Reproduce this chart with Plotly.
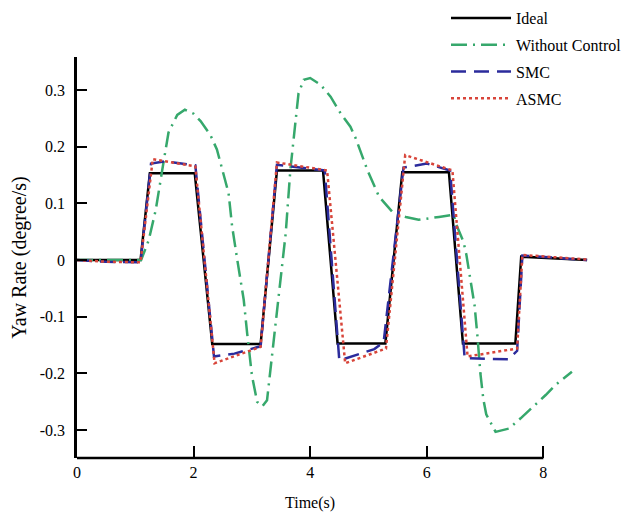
import plotly.graph_objects as go

# ---------------- data ----------------
t_ideal = [0, 1.09, 1.25, 2.02, 2.32, 3.15, 3.43, 4.22, 4.47, 5.29, 5.58, 6.38, 6.62, 7.52, 7.62, 8.75]
y_ideal = [0, 0, 0.153, 0.153, -0.148, -0.148, 0.158, 0.158, -0.147, -0.147, 0.155, 0.155, -0.147, -0.147, 0.006, 0.0]

t_nc = [0, 0.5, 1.1, 1.23, 1.35, 1.49, 1.57, 1.72, 1.85, 2.0, 2.12, 2.29, 2.40, 2.60, 2.66, 2.75,
        2.86, 2.92, 3.0, 3.09, 3.18, 3.26, 3.38, 3.55, 3.58, 3.66, 3.75, 3.8, 3.89, 4.0, 4.18,
        4.35, 4.52, 4.69, 4.78, 4.98, 5.18, 5.41, 5.64, 5.86, 6.21, 6.46, 6.52, 6.63, 6.68,
        6.72, 6.78, 6.82, 6.87, 6.92, 6.97, 7.02, 7.18, 7.41, 7.61, 7.86, 8.04, 8.21, 8.49]
y_nc = [0, 0, 0, 0.035, 0.088, 0.176, 0.225, 0.256, 0.265, 0.258, 0.245, 0.22, 0.195, 0.118, 0.06, 0.0,
        -0.07, -0.13, -0.203, -0.25, -0.258, -0.247, -0.135, 0.012, 0.047, 0.159, 0.25, 0.294, 0.318, 0.321, 0.309,
        0.288, 0.259, 0.235, 0.215, 0.159, 0.112, 0.085, 0.076, 0.071, 0.076, 0.08, 0.059, 0.032, 0.009,
        -0.018, -0.059, -0.08, -0.135, -0.2, -0.245, -0.272, -0.303, -0.297, -0.279, -0.256, -0.238, -0.22, -0.197]

t_smc = [0, 0.5, 1.09, 1.27, 1.5, 2.03, 2.35, 2.7, 3.15, 3.43, 4.25, 4.5, 5.1, 5.26, 5.6, 6.0, 6.4,
         6.65, 7.4, 7.55, 7.64, 8.75]
y_smc = [0, -0.003, -0.004, 0.17, 0.174, 0.167, -0.17, -0.165, -0.152, 0.168, 0.158, -0.177, -0.157, -0.145,
         0.163, 0.17, 0.158, -0.173, -0.175, -0.16, 0.008, 0.0]

t_asmc = [0, 0.5, 1.09, 1.3, 2.03, 2.36, 3.15, 3.43, 4.29, 4.6, 5.3, 5.63, 6.44, 6.7, 7.55, 7.64, 8.75]
y_asmc = [0, -0.003, -0.004, 0.178, 0.165, -0.182, -0.153, 0.172, 0.158, -0.182, -0.156, 0.185, 0.158,
          -0.17, -0.156, 0.009, 0.001]

series_names = ["Ideal", "Without Control", "SMC", "ASMC"]

x_tick_vals = [0, 2, 4, 6, 8]
x_tick_text = ["0", "2", "4", "6", "8"]
y_tick_vals = [0.3, 0.2, 0.1, 0, -0.1, -0.2, -0.3]
y_tick_text = ["0.3", "0.2", "0.1", "0", "-0.1", "-0.2", "-0.3"]

# ---------------- figure ----------------
FONT = "Liberation Serif"
W, H = 621, 509   # page shows the figure offset by the default 8px body margin
PLOT_TOP, PLOT_H = 49, 401
fig = go.Figure()

fig.add_trace(go.Scatter(x=t_ideal, y=y_ideal, mode="lines", name=series_names[0], legendgroup="a",
                         line=dict(color="black", width=2.5)))
fig.add_trace(go.Scatter(x=t_nc, y=y_nc, mode="lines", name=series_names[1], legendgroup="b",
                         line=dict(color="#36a86c", width=2.5, dash="16px,6px,2px,6px")))
fig.add_trace(go.Scatter(x=t_smc, y=y_smc, mode="lines", name=series_names[2], legendgroup="c",
                         line=dict(color="#2b2b9c", width=2.5, dash="15px,8px")))
fig.add_trace(go.Scatter(x=t_asmc, y=y_asmc, mode="lines", name=series_names[3], legendgroup="d",
                         line=dict(color="#d8453a", width=2.5, dash="3px,3px")))

fig.update_layout(
    width=W, height=H,
    margin=dict(l=69, r=39, t=PLOT_TOP, b=H - PLOT_TOP - PLOT_H, autoexpand=False),
    paper_bgcolor="white", plot_bgcolor="white",
    font=dict(family=FONT, size=16, color="black"),
    showlegend=True,
    legend=dict(x=438 / W, xref="container", y=1.0 + 56 / PLOT_H, yref="paper",
                xanchor="left", yanchor="top", itemwidth=60,
                font=dict(family=FONT, size=16, color="black"),
                bgcolor="rgba(0,0,0,0)", tracegroupgap=3, traceorder="grouped"),
    xaxis=dict(range=[0, 8.8], showgrid=False, zeroline=False, showline=False,
               tickvals=x_tick_vals, ticktext=x_tick_text,
               ticks="inside", ticklen=12, tickwidth=2, tickcolor="black",
               tickfont=dict(family=FONT, size=16), ticklabelstandoff=3),
    yaxis=dict(range=[-0.349, 0.358], showgrid=False, zeroline=False,
               showline=True, linewidth=2.5, linecolor="black",
               tickvals=y_tick_vals, ticktext=y_tick_text,
               ticks="inside", ticklen=10, tickwidth=2, tickcolor="black",
               tickfont=dict(family=FONT, size=16), ticklabelstandoff=6,
               title=dict(text="Yaw Rate (degree/s)", font=dict(family=FONT, size=20), standoff=13)),
    shapes=[dict(type="line", xref="x", yref="paper", x0=0, x1=8, y0=0, y1=0,
                 line=dict(color="black", width=2.5))],
    annotations=[dict(text="Time(s)", xref="x", yref="paper", x=4, y=-0.112,
                      xanchor="center", yanchor="middle", showarrow=False,
                      font=dict(family=FONT, size=16, color="black"))],
)

fig.write_html("out.html")
